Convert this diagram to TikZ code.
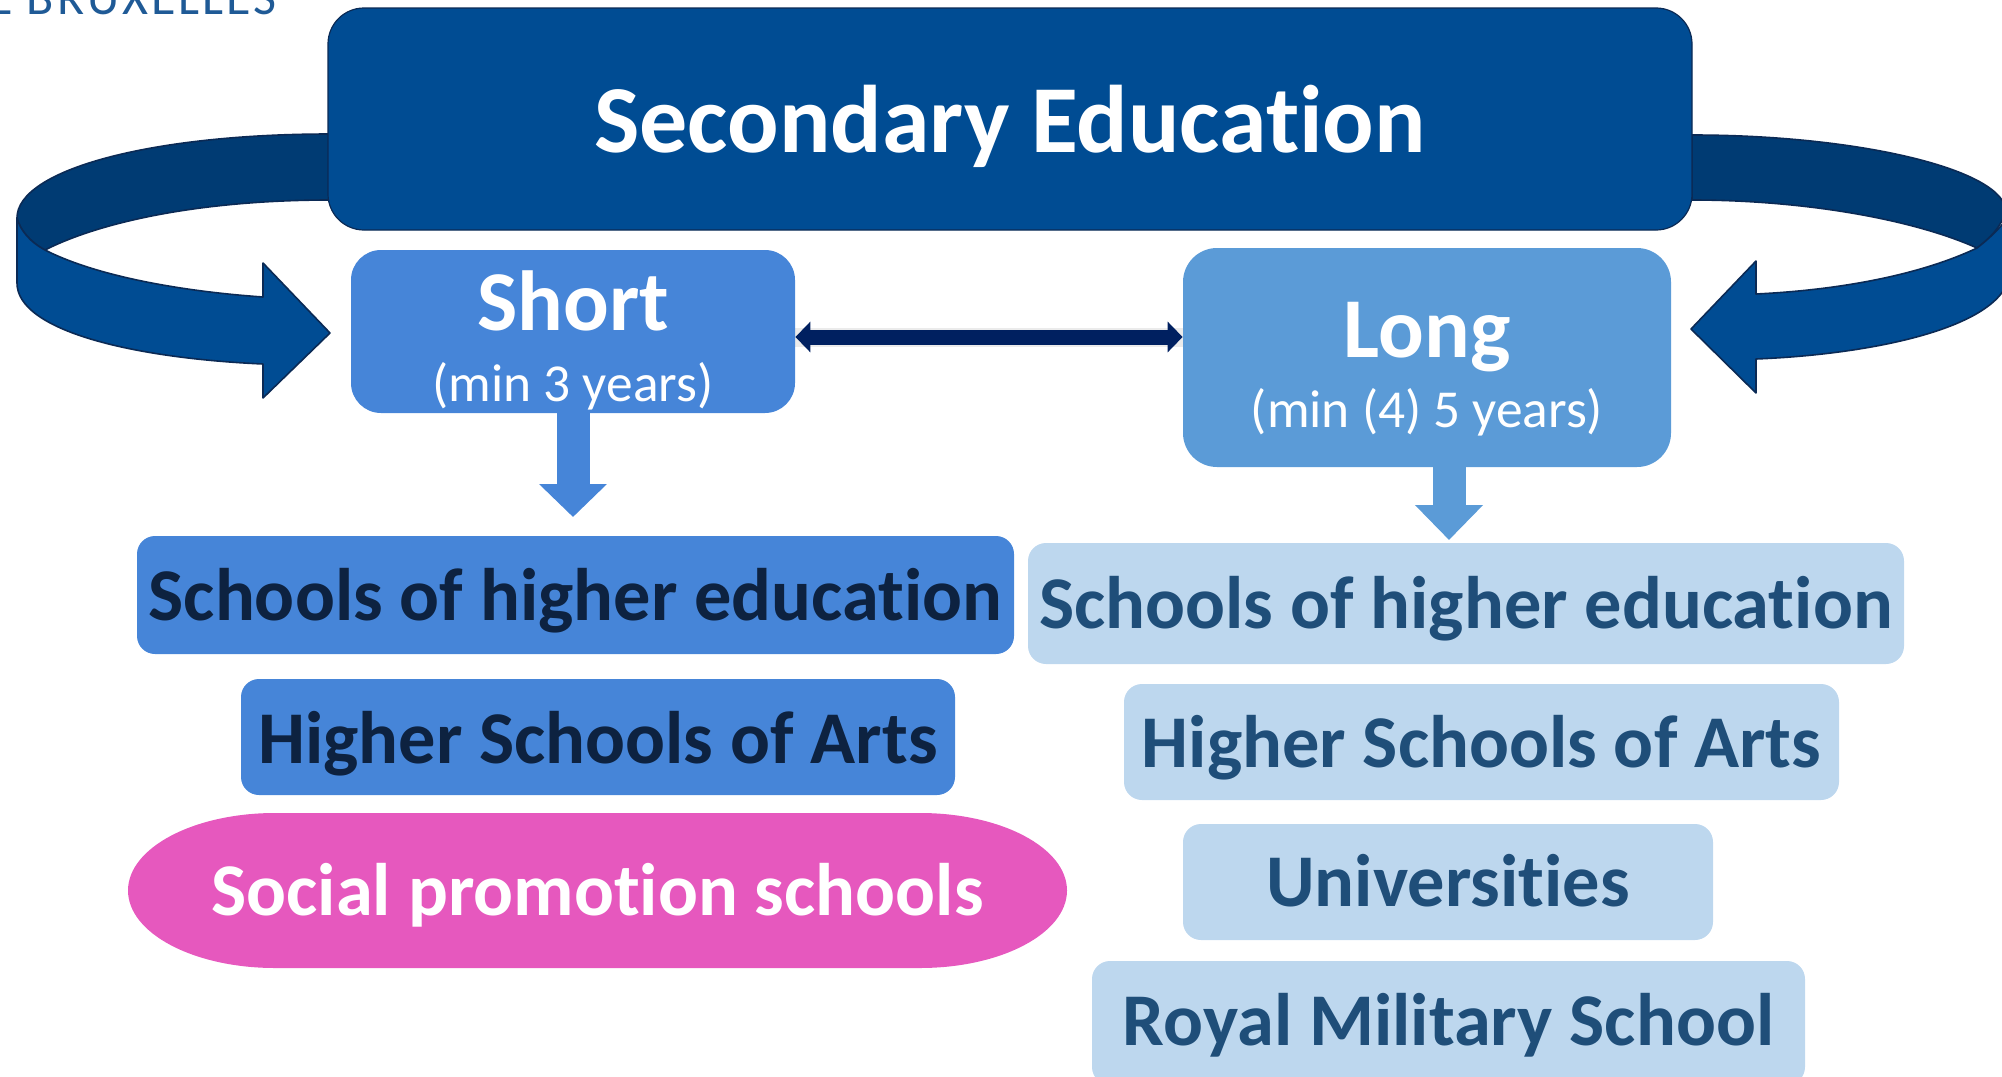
\documentclass[tikz,border=0pt]{standalone}
\usepackage{fontspec}
\setmainfont{Carlito}[Ligatures=NoCommon]
\usetikzlibrary{arrows.meta}
\definecolor{mainblue}{HTML}{004C93}
\definecolor{bandblue}{HTML}{003B73}
\definecolor{edgeblue}{HTML}{0B2A55}
\definecolor{shortblue}{HTML}{4685D8}
\definecolor{longblue}{HTML}{5B9BD7}
\definecolor{lightblue}{HTML}{BDD7EE}
\definecolor{pinkfill}{HTML}{E658BE}
\definecolor{darktext}{HTML}{0D2240}
\definecolor{midtext}{HTML}{1F4E79}
\definecolor{navy}{HTML}{002060}
\definecolor{logoblue}{HTML}{1F5A96}
\newcommand{\drop}[2]{\raisebox{-#1pt}{#2}}
\newcommand{\twolines}[4]{\raisebox{-#1pt}{\begin{tabular}[b]{@{}c@{}}#2\\[#3pt]#4\end{tabular}}}
\tikzset{
  box/.style={rounded corners=#1, inner sep=0pt, text height=0pt, text depth=0pt, align=center},
  mainbox/.style={box=18pt, fill=mainblue, draw=edgeblue, line width=0.6pt, text=white, font=\bfseries\fontsize{48}{48}\selectfont},
  darkbox/.style={box=9pt, fill=shortblue, text=darktext, font=\bfseries\fontsize{37.2}{37.2}\selectfont},
  lightbox/.style={box=9pt, fill=lightblue, text=midtext, font=\bfseries\fontsize{37.2}{37.2}\selectfont},
  pinktext/.style={inner sep=0pt, text height=0pt, text depth=0pt, align=center, text=white, font=\bfseries\fontsize{37.2}{37.2}\selectfont},
  band/.style={fill=bandblue, draw=edgeblue, line width=0.8pt, line join=round},
  front/.style={fill=mainblue, draw=edgeblue, line width=0.8pt, line join=round},
  doublearrow/.style={draw=navy, line width=7.5pt, {Triangle[length=7.5pt,width=15pt,fill=navy]}-{Triangle[length=7.5pt,width=15pt,fill=navy]}},
  downshort/.style={draw=shortblue, line width=16.5pt, -{Triangle[length=16.5pt,width=33pt,fill=shortblue]}},
  downlong/.style={draw=longblue, line width=16.5pt, -{Triangle[length=17.5pt,width=33pt,fill=longblue]}},
}
\begin{document}
\begin{tikzpicture}[x=0.5pt,y=-0.5pt]
\useasboundingbox (0,0) rectangle (2002,1076);
\clip (0,0) rectangle (2002,1076);
% logo fragment
\node[anchor=base east, inner sep=0pt, text=logoblue, font=\fontsize{25}{25}\selectfont\addfontfeatures{LetterSpace=6}] (logo) at (277,14) {E BRUXELLES};
% curved arrows
\draw[band] (330,134) .. controls (150,134) and (17,170) .. (17,218)
  .. controls (20,230) and (30,242) .. (45,250)
  .. controls (100,222) and (200,200) .. (330,200) -- cycle;
\draw[front] (17,218) .. controls (20,230) and (30,242) .. (45,250)
  .. controls (100,278) and (190,292) .. (263,297)
  -- (263,263) -- (330,333) -- (263,398) -- (263,364)
  .. controls (130,358) and (17,330) .. (17,283) -- cycle;
\draw[band] (1692,135) .. controls (1860,135) and (2006,170) .. (2006,212)
  .. controls (2000,228) and (1990,238) .. (1977,248)
  .. controls (1910,218) and (1800,200) .. (1692,200) -- cycle;
\draw[front] (1977,248) .. controls (1920,275) and (1840,290) .. (1756,294)
  -- (1756,261) -- (1691,329) -- (1756,393) -- (1756,359)
  .. controls (1880,354) and (2010,325) .. (2010,270)
  -- (2010,215) .. controls (2000,228) and (1990,238) .. (1977,248) -- cycle;
% boxes
\node[mainbox, minimum width=682pt, minimum height=111pt] (main) at (1010,119) {\drop{17}{Secondary Education}};
\node[box=15pt, fill=shortblue, text=white, minimum width=222pt, minimum height=81.5pt] (short) at (573,331.5)
  {\twolines{34.85}{\bfseries\fontsize{42.6}{42.6}\selectfont Short}{12}{\fontsize{26.7}{26.7}\selectfont (min 3 years)}};
\node[box=17pt, fill=longblue, text=white, minimum width=244pt, minimum height=109.5pt] (long) at (1427,357.5)
  {\twolines{35}{\bfseries\fontsize{42.6}{42.6}\selectfont Long}{12}{\fontsize{26.7}{26.7}\selectfont (min (4) 5 years)}};
\node[darkbox, minimum width=438.5pt, minimum height=59pt] (sl) at (575.5,595) {\drop{12.5}{Schools of higher education}};
\node[darkbox, minimum width=357pt, minimum height=58pt] (hl) at (598,737) {\drop{13}{Higher Schools of Arts}};
\fill[pinkfill] (275,813) -- (920,813) arc[start angle=90,end angle=-90,x radius=73.5pt,y radius=38.75pt]
  -- (275,968) arc[start angle=-90,end angle=-270,x radius=73.5pt,y radius=38.75pt] -- cycle;
\node[pinktext, minimum width=469.5pt, minimum height=77.5pt] (sp) at (597.5,890.5) {\drop{12.5}{Social promotion schools}};
\node[lightbox, minimum width=438pt, minimum height=60.5pt] (sr) at (1466,603.5) {\drop{12.5}{Schools of higher education}};
\node[lightbox, minimum width=357.5pt, minimum height=58pt] (hr) at (1481.5,742) {\drop{12.5}{Higher Schools of Arts}};
\node[lightbox, minimum width=265pt, minimum height=58pt] (un) at (1448,882) {\drop{12}{Universities}};
\node[lightbox, minimum width=356.5pt, minimum height=62pt] (rm) at (1448.5,1023) {\drop{11}{Royal Military School}};
% connectors
\coordinate (sdown) at (573,517);
\coordinate (ldown) at (1449,540);
\draw[downshort] (short.south) -- (sdown);
\draw[downlong] (long.south -| ldown) -- (ldown);
\path (short.east |- 0,337) coordinate (dl) (long.west |- 0,337) coordinate (dr);
\draw[black, opacity=.08, line width=9.5pt] (dl) -- (dr);
\draw[doublearrow] (dl) -- (dr);
\end{tikzpicture}
\end{document}
